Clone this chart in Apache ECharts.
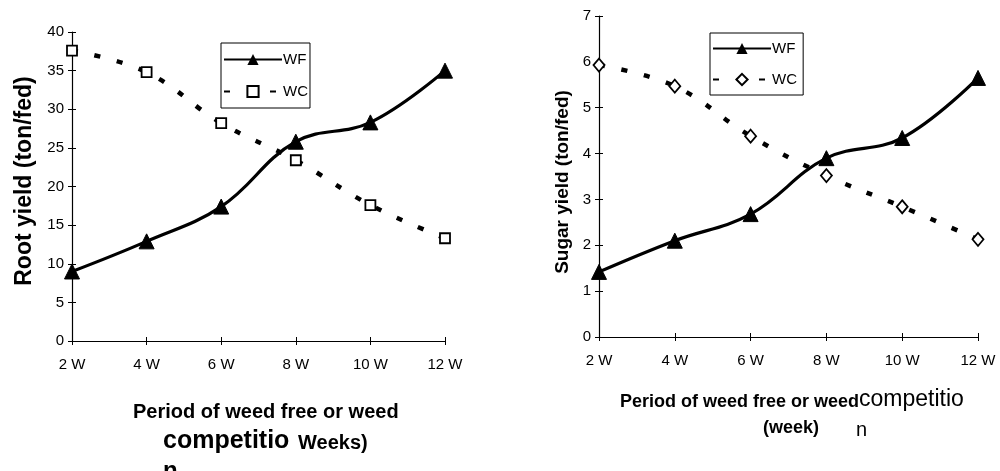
<!DOCTYPE html>
<html><head><meta charset="utf-8">
<script src="https://cdn.jsdelivr.net/npm/echarts@6/dist/echarts.min.js"></script>
<style>html,body{margin:0;padding:0;background:#fff}#c{width:1000px;height:471px}</style>
</head><body><div id="c"></div>
<script>
const categories = ['2 W','4 W','6 W','8 W','10 W','12 W'];
const rootWF = [9.0, 12.9, 17.4, 25.8, 28.3, 35.0];
const rootWC = [37.6, 34.8, 28.2, 23.4, 17.6, 13.3];
const sugarWF = [1.42, 2.1, 2.68, 3.9, 4.34, 5.65];
const sugarWC = [5.93, 5.47, 4.38, 3.52, 2.84, 2.13];
const rootTicks = {min:0, max:40, interval:5};
const sugarTicks = {min:0, max:7, interval:1};

const FONT = '"Liberation Sans", Arial, sans-serif';
const axisLine = {show:true, lineStyle:{color:'#000', width:1.2}};
const tickStyle = {color:'#000', width:1};

function xAxis(gi, inside){
  return {type:'category', gridIndex:gi, data:categories, boundaryGap:false, position:'bottom',
    axisLine: inside ? {show:false} : axisLine,
    axisTick:{show:true, inside:!!inside, length:4, lineStyle:tickStyle, alignWithLabel:true},
    axisLabel: inside ? {show:false} : {color:'#000', fontFamily:FONT, fontSize:15, margin:16},
    splitLine:{show:false}};
}
function yAxis(gi, t, inside){
  return {type:'value', gridIndex:gi, min:t.min, max:t.max, interval:t.interval, position:'left',
    axisLine: inside ? {show:false} : axisLine,
    axisTick:{show:true, inside:!!inside, length:4, lineStyle:tickStyle},
    axisLabel: inside ? {show:false} : {color:'#000', fontFamily:FONT, fontSize:15, margin:8},
    splitLine:{show:false}};
}
const wfLine = {color:'#000', width:3.2};
const wcLine = {color:'#000', width:4.5, type:[6,17], cap:'butt'};

const option = {
  animation:false,
  backgroundColor:'#fff',
  grid:[
    {left:72, top:32, width:373, height:309},
    {left:599, top:16, width:379, height:321}
  ],
  xAxis:[xAxis(0), xAxis(1), xAxis(0,true), xAxis(1,true)],
  yAxis:[yAxis(0, rootTicks), yAxis(1, sugarTicks), yAxis(0, rootTicks, true), yAxis(1, sugarTicks, true)],
  legend:[
    {left:221, top:43, orient:'vertical', itemWidth:58, itemHeight:14, itemGap:17,
      padding:[9,2,9,2], borderColor:'#000', borderWidth:1, backgroundColor:'#fff',
      textStyle:{color:'#000', fontFamily:FONT, fontSize:15, padding:[0,0,0,-4]},
      data:['WF','WC'].map(n=>({name:n})), selectedMode:false},
    {left:710, top:33, orient:'vertical', itemWidth:58, itemHeight:14, itemGap:16,
      padding:[8,2,8,2], borderColor:'#000', borderWidth:1, backgroundColor:'#fff',
      textStyle:{color:'#000', fontFamily:FONT, fontSize:15, padding:[0,0,0,-4]},
      data:['WF ','WC '].map(n=>({name:n})), selectedMode:false}
  ],
  series:[
    {name:'WF', type:'line', xAxisIndex:0, yAxisIndex:0, data:rootWF, smooth:0.4,
      symbol:'triangle', symbolSize:15, lineStyle:wfLine, itemStyle:{color:'#000', borderColor:'#000'}},
    {name:'WC', type:'line', xAxisIndex:0, yAxisIndex:0, data:rootWC, smooth:0.4,
      symbol:'rect', symbolSize:10, lineStyle:wcLine, itemStyle:{color:'#fff', borderColor:'#000', borderWidth:1.8}},
    {name:'WF ', type:'line', xAxisIndex:1, yAxisIndex:1, data:sugarWF, smooth:0.4,
      symbol:'triangle', symbolSize:15, lineStyle:wfLine, itemStyle:{color:'#000', borderColor:'#000'}},
    {name:'WC ', type:'line', xAxisIndex:1, yAxisIndex:1, data:sugarWC, smooth:0.4,
      symbol:'diamond', symbolSize:[11,13], lineStyle:wcLine, itemStyle:{color:'#fff', borderColor:'#000', borderWidth:1.8}}
  ],
  graphic:[
    {type:'text', x:25, y:181, rotation:Math.PI/2, style:{text:'Root yield (ton/fed)', fill:'#000',
      font:'bold 23px '+FONT, align:'center', verticalAlign:'middle'}},
    {type:'text', x:563, y:182, rotation:Math.PI/2, style:{text:'Sugar yield (ton/fed)', fill:'#000',
      font:'bold 19px '+FONT, align:'center', verticalAlign:'middle'}},
    {type:'text', x:133, y:412, style:{text:'Period of weed free or weed', fill:'#000',
      font:'bold 20px '+FONT, verticalAlign:'middle'}},
    {type:'text', x:163, y:441, style:{text:'competitio', fill:'#000', font:'bold 25px '+FONT, verticalAlign:'middle'}},
    {type:'text', x:298, y:443, style:{text:'Weeks)', fill:'#000', font:'bold 20px '+FONT, verticalAlign:'middle'}},
    {type:'text', x:163, y:471, style:{text:'n', fill:'#000', font:'bold 24px '+FONT, verticalAlign:'middle'}},
    {type:'text', x:620, y:402, style:{text:'Period of weed free or weed', fill:'#000',
      font:'bold 18px '+FONT, verticalAlign:'middle'}},
    {type:'text', x:859, y:400, style:{text:'competitio', fill:'#000', font:'23px '+FONT, verticalAlign:'middle'}},
    {type:'text', x:791, y:428, style:{text:'(week)', fill:'#000', font:'bold 18px '+FONT, align:'center', verticalAlign:'middle'}},
    {type:'text', x:856, y:430, style:{text:'n', fill:'#000', font:'20px '+FONT, verticalAlign:'middle'}}
  ]
};
echarts.init(document.getElementById('c'), null, {renderer:'canvas'}).setOption(option);
</script></body></html>
